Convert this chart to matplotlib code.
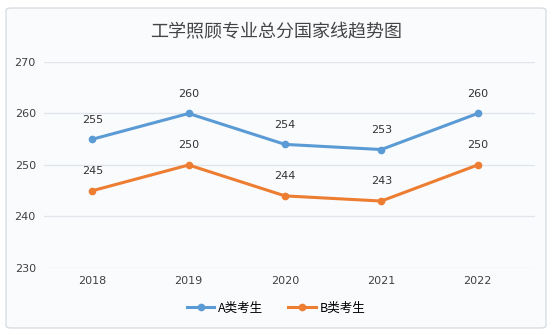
import matplotlib.pyplot as plt
from matplotlib.patches import FancyBboxPatch

plt.rcParams['font.family'] = ['Noto Sans CJK SC', 'DejaVu Sans']

years = ["2018", "2019", "2020", "2021", "2022"]
score_a = [255, 260, 254, 253, 260]
score_b = [245, 250, 244, 243, 250]
yticks = [230, 240, 250, 260, 270]

blue = "#5B9BD5"
orange = "#ED7D31"
bg = "#f9fbfd"

fig = plt.figure(figsize=(5.52, 3.35), dpi=100)
fig.patch.set_facecolor("white")
# outer rounded frame, kept behind the axes
box = FancyBboxPatch((6 / 552, 7 / 335), 540 / 552, 320 / 335,
                     boxstyle="round,pad=0,rounding_size=0.008",
                     transform=fig.transFigure, facecolor=bg,
                     edgecolor="#d0d6de", linewidth=0.8, zorder=-5)
fig.patches.append(box)

ax = fig.add_axes([0.08, 0.2, 0.89, 0.615])
ax.set_facecolor(bg)
x = range(len(years))
ax.plot(x, score_a, color=blue, lw=2.2, marker="o", ms=4.5, label="A类考生", zorder=3)
ax.plot(x, score_b, color=orange, lw=2.2, marker="o", ms=4.5, label="B类考生", zorder=3)

for i in x:
    ax.annotate(str(score_a[i]), (i, score_a[i]), xytext=(0, 12), textcoords="offset points",
                ha="center", fontsize=8, color="#333333", family="DejaVu Sans")
    ax.annotate(str(score_b[i]), (i, score_b[i]), xytext=(0, 12), textcoords="offset points",
                ha="center", fontsize=8, color="#333333", family="DejaVu Sans")

ax.set_xlim(-0.5, len(years) - 0.4)
ax.set_ylim(230, 270)
ax.set_yticks(yticks)
ax.set_xticks(list(x))
ax.set_xticklabels(years)
ax.grid(axis="y", color="#e1e4e8", lw=0.9)
ax.set_axisbelow(True)
for s in ax.spines.values():
    s.set_visible(False)
ax.tick_params(length=0, labelsize=8, colors="#404040", pad=6)
for t in ax.get_xticklabels() + ax.get_yticklabels():
    t.set_family("DejaVu Sans")

fig.text(0.5, 0.905, "工学照顾专业总分国家线趋势图", ha="center", va="center",
         fontsize=13, color="#444444")
fig.legend(loc="center", bbox_to_anchor=(0.5, 0.08), ncol=2, frameon=False,
           fontsize=9, handlelength=2.2, columnspacing=2.0, handletextpad=0.3)

fig.savefig("out.png", dpi=100, facecolor="white")
